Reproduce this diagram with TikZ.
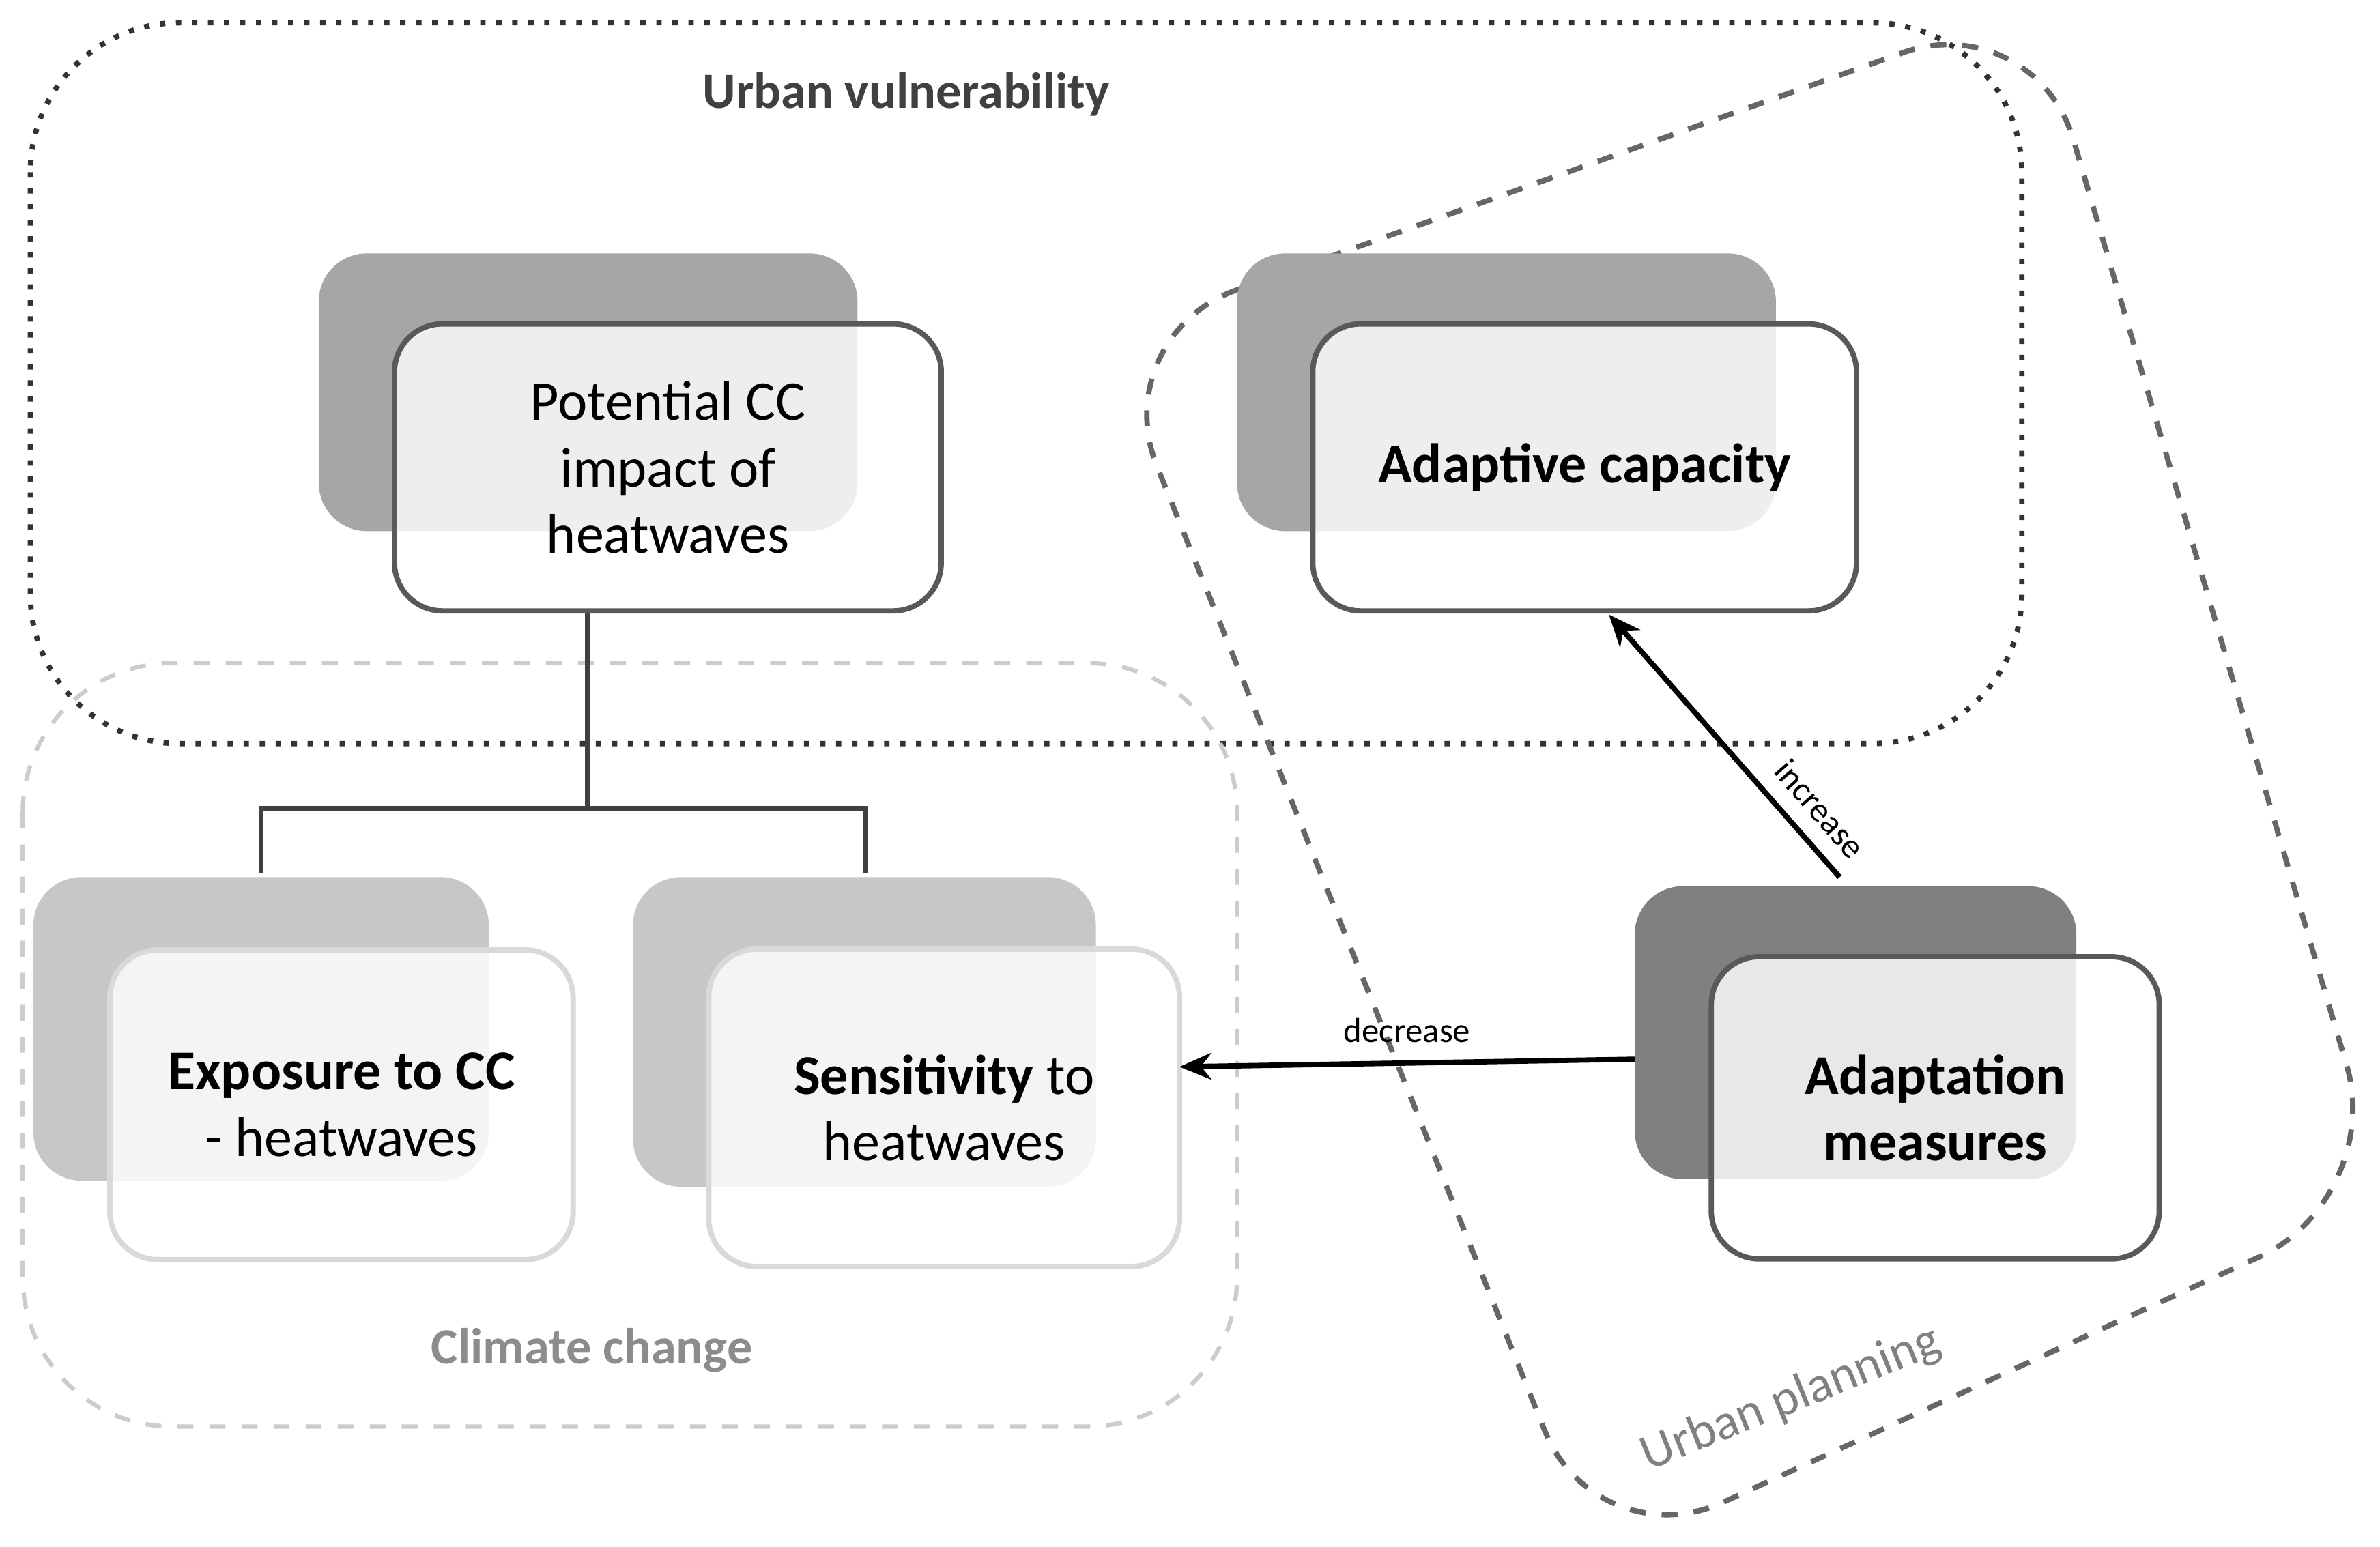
\documentclass[tikz,border=0pt]{standalone}
\usepackage{fontspec}
\setmainfont{Carlito}
\usetikzlibrary{arrows.meta}

\tikzset{
  back/.style={rounded corners=9pt, draw=none},
  front/.style={rounded corners=9pt, draw=black!65, line width=1pt,
    fill=white, fill opacity=.82, text opacity=1, align=center,
    font=\fontsize{10.5}{12.5}\selectfont},
  link/.style={draw=black!75, line width=1pt},
  push/.style={draw=black, line width=1pt, -{Stealth[length=6pt,width=5pt]}},
  tag/.style={font=\fontsize{6.5}{8}\selectfont},
}

\begin{document}
\begin{tikzpicture}[x=0.01cm, y=-0.01cm]
\useasboundingbox (0,0) rectangle (1568,1019);

% groups
\draw[black!80, dotted, line width=1pt, rounded corners=28pt] (20,15) rectangle (1332,490);
\node[font=\bfseries\fontsize{9.5}{11}\selectfont, text=black!75] (vulner) at (597,62) {Urban vulnerability};
\draw[black!20, dashed, line width=.8pt, rounded corners=28pt] (15,437) rectangle (815,940);
\node[font=\bfseries\fontsize{9.5}{11}\selectfont, text=black!45] (climate) at (390,890) {Climate change};
\draw[black!60, dashed, line width=1pt, rounded corners=26pt]
  (728,222) -- (1340,4) -- (1572,790) -- (1052,1028) -- cycle;
\node[font=\fontsize{9.5}{11}\selectfont, text=black!50, rotate=22] (planning) at (1180,922) {Urban planning};

% back panels
\fill[back, black!35] (210,167) rectangle (565,350);
\fill[back, black!35] (815,167) rectangle (1170,350);
\fill[back, black!22] (22,578) rectangle (322,778);
\fill[back, black!22] (417,578) rectangle (722,782);
\fill[back, black!50] (1077,584) rectangle (1368,777);

% front boxes
\node[front, minimum width=3.6cm, minimum height=1.89cm] (impact) at (440,308) {Potential CC\\impact of\\heatwaves};
\node[front, minimum width=3.58cm, minimum height=1.89cm] (capacity) at (1044,308) {\bfseries Adaptive capacity};
\node[front, draw=black!15, minimum width=3.05cm, minimum height=2.04cm] (exposure) at (225,728) {\textbf{Exposure to CC}\\- heatwaves};
\node[front, draw=black!15, minimum width=3.1cm, minimum height=2.09cm] (sensitivity) at (622,730) {\textbf{Sensitivity} to\\heatwaves};
\node[front, minimum width=2.95cm, minimum height=1.99cm] (measures) at (1275,730) {\bfseries Adaptation\\\bfseries measures};

% tree
\coordinate (fork) at (387,533);
\draw[link] (impact.south -| fork) -- (fork);
\draw[link] (172,575) |- (fork) -| (570,575);

% effects
\coordinate (from) at (1077,698);
\coordinate (cut) at (777,703);
\coordinate (top) at (1060,405);
\draw[push] (from) -- node[above, tag] {decrease} (cut);
\draw[push] (1212,578) -- (top);
\node[tag, rotate=-49] (incr) at (1199,533) {increase};
\end{tikzpicture}
\end{document}
